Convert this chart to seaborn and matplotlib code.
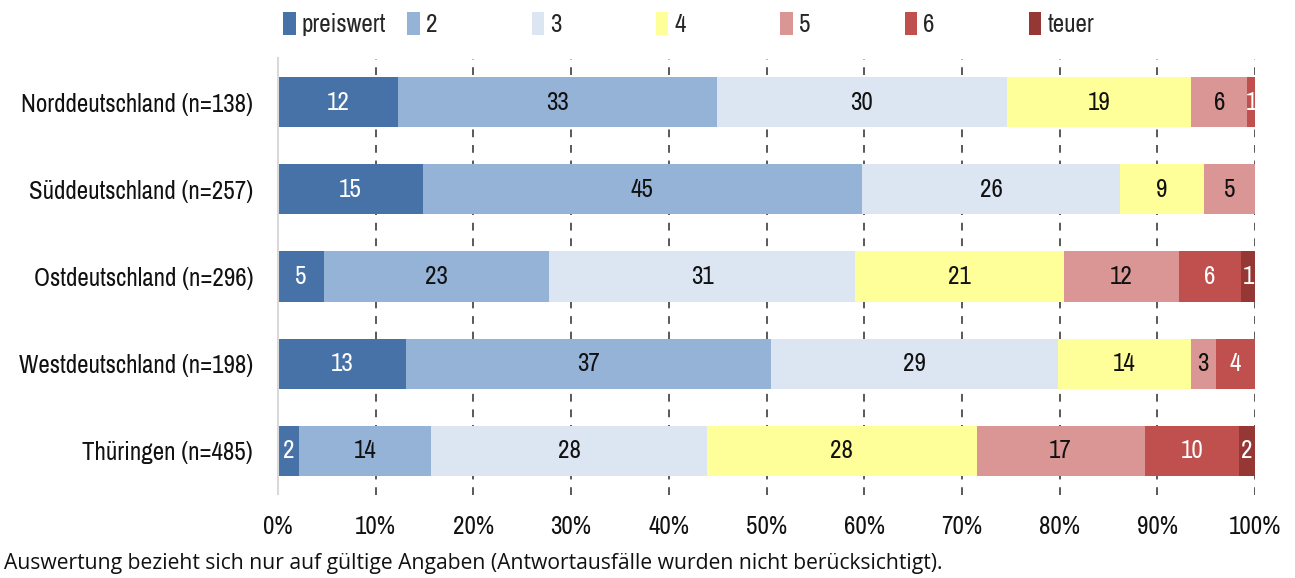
import matplotlib
matplotlib.use("Agg")
import matplotlib.pyplot as plt
from matplotlib import font_manager
from matplotlib.patches import Patch
import numpy as np
import pandas as pd
import seaborn as sns

# Survey: perceived price level by region, shares in percent
regions = [
    "Norddeutschland (n=138)",
    "Süddeutschland (n=257)",
    "Ostdeutschland (n=296)",
    "Westdeutschland (n=198)",
    "Thüringen (n=485)",
]
levels = ["preiswert", "2", "3", "4", "5", "6", "teuer"]

preiswert = [12.3, 14.8, 4.7, 13.1, 2.1]
stufe2 = [32.6, 45.0, 23.0, 37.4, 13.6]
stufe3 = [29.7, 26.4, 31.4, 29.3, 28.2]
stufe4 = [18.9, 8.6, 21.3, 13.6, 27.6]
stufe5 = [5.7, 5.2, 11.8, 2.6, 17.2]
stufe6 = [0.8, 0.0, 6.4, 4.0, 9.7]
teuer = [0.0, 0.0, 1.4, 0.0, 1.6]

xticks = [0, 10, 20, 30, 40, 50, 60, 70, 80, 90, 100]
footnote = ("Auswertung bezieht sich nur auf gültige Angaben "
            "(Antwortausfälle wurden nicht berücksichtigt).")

colors = ["#4672A8", "#95B3D7", "#DCE6F2", "#FFFF99",
          "#D99694", "#C0504D", "#953735"]
text_colors = ["white", "#111111", "#111111", "#111111",
               "#111111", "white", "white"]

sns.set_theme(style="white")

# Prefer a narrow/condensed face (light if available) for the chart text
fm = font_manager.fontManager
def is_narrow(f):
    return (("Condensed" in f.fname or "Narrow" in f.fname
             or "Condensed" in f.name or "Narrow" in f.name)
            and f.style == "normal"
            and "Extra" not in f.fname and "Semi" not in f.fname)

narrow_faces = [f for f in fm.ttflist if is_narrow(f)]
weight = "normal"
if narrow_faces:
    regular = [f for f in narrow_faces if f.weight in (400, "normal", "regular")]
    pick = sorted(regular or narrow_faces,
                  key=lambda f: ("Noto" not in f.name, f.name))[0]
    light = [f for f in narrow_faces if f.name == pick.name and f.weight == 300]
    if light:
        weight = 300
    plt.rcParams["font.family"] = [pick.name, "DejaVu Sans"]
    plt.rcParams["font.stretch"] = pick.stretch
    plt.rcParams["font.weight"] = weight
    base = 18
else:
    plt.rcParams["font.family"] = ["Roboto", "DejaVu Sans"]
    base = 15.5
body_font = ["Open Sans", "DejaVu Sans"]

series = [preiswert, stufe2, stufe3, stufe4, stufe5, stufe6, teuer]
vals = np.array(series)            # shape (levels, regions)
cums = np.cumsum(vals, axis=0)

df = pd.DataFrame({
    "region": np.tile(regions, len(levels)),
    "level": np.repeat(levels, len(regions)),
    "value": vals.ravel(),
    "cum": cums.ravel(),
})

W, H, DPI = 1295, 578, 100
fig = plt.figure(figsize=(W / DPI, H / DPI), dpi=DPI)
ax = fig.add_axes([278 / W, 1 - 494.5 / H, (1255 - 278) / W, (494.5 - 58.5) / H])

# Stacked bars: draw cumulative totals from the last level backwards
for i in range(len(levels) - 1, -1, -1):
    sub = df[df["level"] == levels[i]]
    sns.barplot(data=sub, x="cum", y="region", order=regions, orient="h",
                color=colors[i], saturation=1, width=0.575, ax=ax,
                edgecolor="none", linewidth=0, zorder=2)

# Segment labels
for i, lev in enumerate(levels):
    sub = df[df["level"] == lev]
    for j, (v, c) in enumerate(zip(sub["value"], sub["cum"])):
        if v <= 0:
            continue
        ax.text(c - v / 2, j, f"{v:.0f}", ha="center", va="center",
                fontsize=base, color=text_colors[i], zorder=3)

ax.set_xlim(0, 100)
ax.set_ylim(4.5, -0.5)
ax.set_xticks(xticks)
ax.set_xticklabels([f"{t}%" for t in xticks])
ax.set_xlabel("")
ax.set_ylabel("")
ax.tick_params(axis="x", length=0, pad=15, labelsize=base, colors="#111111")
ax.tick_params(axis="y", length=0, pad=18, labelsize=base, colors="#111111")

ax.xaxis.grid(True, linestyle=(0, (4, 4)), color="#595959", linewidth=1.4)
ax.yaxis.grid(False)
ax.set_axisbelow(True)
ax.get_xgridlines()[0].set_visible(False)

for side in ["top", "right", "bottom"]:
    ax.spines[side].set_visible(False)
ax.spines["left"].set_color("#D9D9D9")
ax.spines["left"].set_linewidth(1.5)

# Legend entries evenly spaced across the top
for i, (lev, col) in enumerate(zip(levels, colors)):
    x0 = (283 + i * 124.3) / W
    fig.legend(handles=[Patch(facecolor=col, edgecolor="none")], labels=[lev],
               loc="center left", bbox_to_anchor=(x0, 1 - 24 / H),
               frameon=False, fontsize=base, handlelength=0.5, handleheight=1.0,
               handletextpad=0.25, borderpad=0, borderaxespad=0)

fig.text(4 / W, 1 - 563 / H, footnote, ha="left", va="center",
         fontsize=15.2, color="#111111", family=body_font, stretch="normal",
         weight="normal")

fig.savefig("out.png", dpi=DPI)
